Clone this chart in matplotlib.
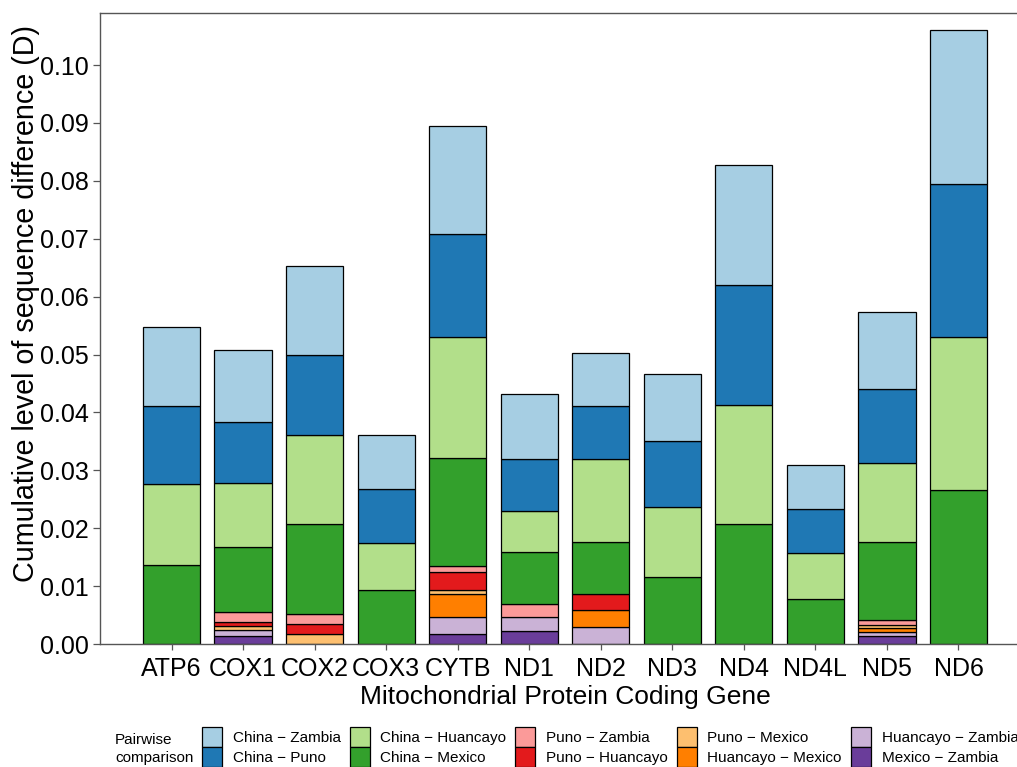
import numpy as np
import matplotlib as mpl
import matplotlib.pyplot as plt
from matplotlib.patches import Patch

mpl.rcParams.update({
    "font.family": ["Liberation Sans", "DejaVu Sans"],
    "font.size": 14,
})

genes = ["ATP6", "COX1", "COX2", "COX3", "CYTB", "ND1", "ND2", "ND3", "ND4", "ND4L", "ND5", "ND6"]

# segment heights, stacked bottom -> top
mexico_zambia = [0, 0.0013, 0, 0, 0.0018, 0.0023, 0, 0, 0, 0, 0.0013, 0]
huancayo_zambia = [0, 0.0012, 0, 0, 0.0029, 0.0024, 0.0029, 0, 0, 0, 0.0007, 0]
huancayo_mexico = [0, 0, 0, 0, 0.0039, 0, 0.0029, 0, 0, 0, 0.0008, 0]
puno_mexico = [0, 0.0006, 0.0017, 0, 0.0008, 0, 0, 0, 0, 0, 0.0005, 0]
puno_huancayo = [0, 0.0007, 0.0018, 0, 0.0030, 0, 0.0028, 0, 0, 0, 0, 0]
puno_zambia = [0, 0.0018, 0.0017, 0, 0.0010, 0.0022, 0, 0, 0, 0, 0.0009, 0]
china_mexico = [0.0136, 0.0112, 0.0155, 0.0093, 0.0187, 0.0090, 0.0090, 0.0116, 0.0207, 0.0078, 0.0134, 0.0266]
china_huancayo = [0.0140, 0.0110, 0.0154, 0.0081, 0.0209, 0.0071, 0.0144, 0.0121, 0.0206, 0.0079, 0.0137, 0.0264]
china_puno = [0.0135, 0.0105, 0.0138, 0.0094, 0.0178, 0.0090, 0.0091, 0.0114, 0.0207, 0.0076, 0.0127, 0.0264]
china_zambia = [0.0136, 0.0125, 0.0154, 0.0093, 0.0187, 0.0112, 0.0092, 0.0115, 0.0207, 0.0076, 0.0133, 0.0266]

series = [
    ("Mexico \u2212 Zambia", mexico_zambia, "#6A3D9A"),
    ("Huancayo \u2212 Zambia", huancayo_zambia, "#CAB2D6"),
    ("Huancayo \u2212 Mexico", huancayo_mexico, "#FF7F00"),
    ("Puno \u2212 Mexico", puno_mexico, "#FDBF6F"),
    ("Puno \u2212 Huancayo", puno_huancayo, "#E31A1C"),
    ("Puno \u2212 Zambia", puno_zambia, "#FB9A99"),
    ("China \u2212 Mexico", china_mexico, "#33A02C"),
    ("China \u2212 Huancayo", china_huancayo, "#B2DF8A"),
    ("China \u2212 Puno", china_puno, "#1F78B4"),
    ("China \u2212 Zambia", china_zambia, "#A6CEE3"),
]

fig = plt.figure(figsize=(10.17, 7.67), dpi=100, facecolor="white")
ax = fig.add_axes([100 / 1017, 123 / 767, 930 / 1017, 631 / 767])

x = np.arange(1, len(genes) + 1)
bottom = np.zeros(len(genes))
for name, vals, col in series:
    v = np.asarray(vals, dtype=float)
    m = v > 0
    ax.bar(x[m], v[m], width=0.8, bottom=bottom[m], color=col, edgecolor="black", linewidth=0.9, zorder=2)
    bottom += v

ax.set_xlim(0, 13)
ax.set_ylim(0, 0.109)
ax.set_xticks(x)
ax.set_xticklabels(genes)
ax.set_yticks(np.arange(0, 0.101, 0.01))
ax.yaxis.set_major_formatter(mpl.ticker.FormatStrFormatter("%.2f"))
for s in ax.spines.values():
    s.set_color("#555555")
    s.set_linewidth(1.0)
ax.tick_params(axis="both", colors="#555555", labelcolor="black", labelsize=18, length=4, width=0.9)
ax.tick_params(axis="y", length=5, pad=3)
ax.tick_params(axis="x", pad=5)
ax.set_xlabel("Mitochondrial Protein Coding Gene", fontsize=19, labelpad=3)
ax.set_ylabel("Cumulative level of sequence difference (D)", fontsize=20.7)
ax.yaxis.set_label_coords(-0.064, 0.539)

# legend, order as in the reference (top of stack first)
handles = [Patch(facecolor=col, edgecolor="black", linewidth=0.9, label=name) for name, _, col in series[::-1]]
fig.legend(handles=handles, ncol=5, loc="upper left", bbox_to_anchor=(202 / 1017, 1 - 727 / 767),
           frameon=False, fontsize=11, handlelength=1.3, handleheight=1.62, handletextpad=0.7,
           columnspacing=0.6, labelspacing=0.03, borderpad=0, borderaxespad=0)
fig.text(115 / 1017, 1 - 744 / 767, "Pairwise", fontsize=11, ha="left", va="baseline")
fig.text(115 / 1017, 1 - 762 / 767, "comparison", fontsize=11, ha="left", va="baseline")

fig.savefig("out.png", dpi=100)
